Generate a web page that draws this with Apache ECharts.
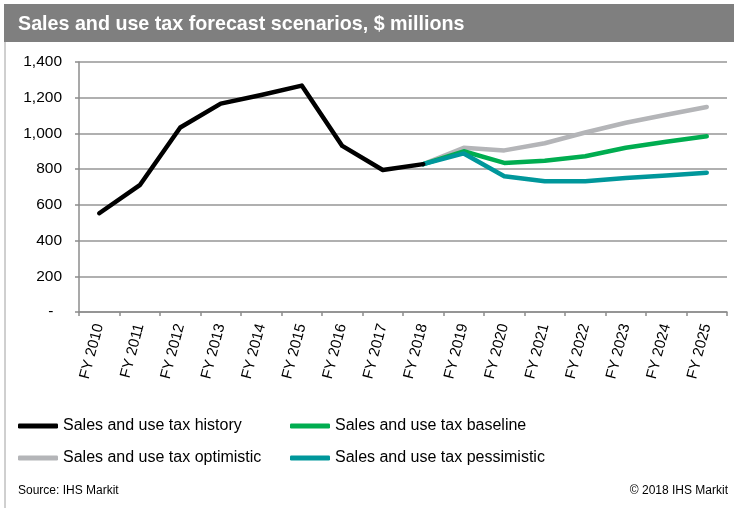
<!DOCTYPE html>
<html>
<head>
<meta charset="utf-8">
<script src="https://cdn.jsdelivr.net/npm/echarts@6/dist/echarts.min.js"></script>
<style>
html,body{margin:0;padding:0;background:#fff;}
#chart{width:734px;height:508px;}
</style>
</head>
<body>
<div id="chart"></div>
<script>
const categories = ['FY 2010','FY 2011','FY 2012','FY 2013','FY 2014','FY 2015','FY 2016','FY 2017','FY 2018','FY 2019','FY 2020','FY 2021','FY 2022','FY 2023','FY 2024','FY 2025'];
const history     = [553, 710, 1033, 1167, 1215, 1268, 930, 795, 828, null, null, null, null, null, null, null];
const optimistic  = [null, null, null, null, null, null, null, null, 828, 920, 905, 945, 1005, 1060, 1105, 1148];
const baseline    = [null, null, null, null, null, null, null, null, 828, 900, 835, 847, 872, 920, 953, 984];
const pessimistic = [null, null, null, null, null, null, null, null, 828, 888, 760, 732, 732, 750, 765, 780];
const seriesNames = ['Sales and use tax history','Sales and use tax optimistic','Sales and use tax baseline','Sales and use tax pessimistic'];
const yTickLabels = ['-','200','400','600','800','1,000','1,200','1,400'];

const chart = echarts.init(document.getElementById('chart'), null, {renderer:'canvas'});
const font = 'Liberation Sans, Arial, sans-serif';
function line(name, data, color, z){
  return {name:name, type:'line', data:data, symbol:'none', showSymbol:false, z:z,
    connectNulls:false, lineStyle:{color:color, width:4.5, cap:'round', join:'round'},
    itemStyle:{color:color}};
}
const legendBase = {orient:'vertical', top:418, itemGap:16, padding:0,
  icon:'roundRect', itemWidth:40, itemHeight:5, textStyle:{fontSize:16, color:'#000', fontFamily:font}};
chart.setOption({
  animation:false,
  backgroundColor:'#ffffff',
  grid:{left:79, right:7, top:62, bottom:196},
  xAxis:{type:'category', data:categories, boundaryGap:true,
    axisLine:{lineStyle:{color:'#8c8c8c', width:1.5}},
    axisTick:{show:true, length:4, inside:false, alignWithLabel:false, lineStyle:{color:'#8c8c8c', width:1.5}},
    axisLabel:{rotate:75, margin:12, fontSize:15, color:'#000', fontFamily:font, interval:0}},
  yAxis:{type:'value', min:0, max:1400, interval:200,
    axisLine:{show:true, lineStyle:{color:'#8c8c8c', width:1.5}},
    axisTick:{show:true, length:4, lineStyle:{color:'#8c8c8c', width:1.5}},
    splitLine:{lineStyle:{color:'#969696', width:1.5}},
    axisLabel:{margin:17, fontSize:15.5, color:'#000', fontFamily:font,
      formatter:function(v){ const s = yTickLabels[Math.round(v/200)]; return s === '-' ? '-  ' : s; }}},
  legend:[
    Object.assign({}, legendBase, {data:[seriesNames[0], seriesNames[1]], left:18}),
    Object.assign({}, legendBase, {data:[seriesNames[2], seriesNames[3]], left:290})
  ],
  graphic:[
    {type:'rect', left:4, top:4, shape:{width:730, height:38}, style:{fill:'#7f7f7f'}, silent:true},
    {type:'text', left:18, top:15, style:{text:'Sales and use tax forecast scenarios, $ millions', fill:'#fff', font:'bold 19.7px Liberation Sans, Arial, sans-serif'}},
    {type:'line', shape:{x1:5, y1:42, x2:5, y2:508}, style:{stroke:'#a0a0a0', lineWidth:1}},
    {type:'text', left:18, top:485, style:{text:'Source: IHS Markit', fill:'#000', font:'12px Liberation Sans, Arial, sans-serif'}},
    {type:'text', right:6, top:485, style:{text:'\u00a9 2018 IHS Markit', fill:'#000', font:'12px Liberation Sans, Arial, sans-serif'}}
  ],
  series:[
    line(seriesNames[1], optimistic, '#b4b5b8', 2),
    line(seriesNames[2], baseline, '#00ad50', 3),
    line(seriesNames[3], pessimistic, '#00979b', 4),
    line(seriesNames[0], history, '#000000', 5)
  ]
});
</script>
</body>
</html>
